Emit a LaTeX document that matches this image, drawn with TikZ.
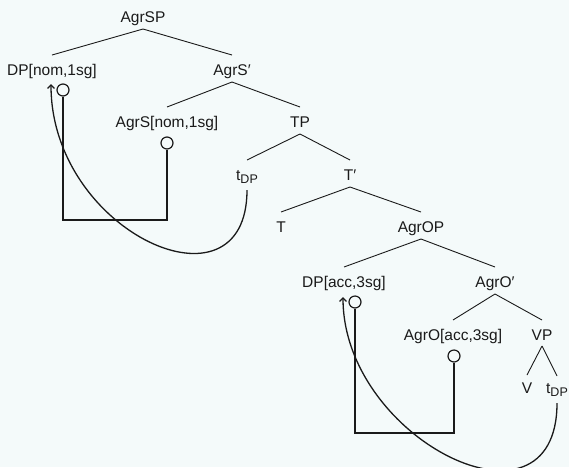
\documentclass[tikz,border=0pt]{standalone}
\usepackage{fontspec}
\setmainfont{Liberation Sans}
\usetikzlibrary{arrows.meta}
\definecolor{paper}{HTML}{F4FAFA}
\definecolor{ink}{HTML}{1A1A1A}
\newcommand{\trace}{t\raisebox{-3pt}{\fontsize{12.5}{14}\selectfont DP}}
\begin{document}
\begin{tikzpicture}[x=1pt,y=-1pt,
  lbl/.style={anchor=base,inner sep=0pt,text=ink,font=\fontsize{15.5}{18}\selectfont},
  branch/.style={draw=ink,line width=0.9pt},
  link/.style={draw=ink,line width=1.3pt},
  knob/.style={circle,draw=ink,fill=paper,line width=1.2pt,minimum size=12pt,inner sep=0pt},
  move/.style={draw=ink,line width=1.3pt,-{Straight Barb[length=3.5pt,width=7pt]}}]
\fill[paper] (0,0) rectangle (569,467);
\useasboundingbox (0,0) rectangle (569,467);

% tree labels (x = centre, y = baseline)
\node[lbl] (agrsp) at (143,22)  {AgrSP};
\node[lbl] (dpnom) at (52,75)   {DP[nom,1sg]};
\node[lbl] (agrsb) at (232,75)  {AgrS′};
\node[lbl] (agrs)  at (167,127) {AgrS[nom,1sg]};
\node[lbl] (tp)    at (300,127) {TP};
\node[lbl] (ts)    at (247,180) {\trace};
\node[lbl] (tb)    at (350,180) {T′};
\node[lbl] (t)     at (281,232) {T};
\node[lbl] (agrop) at (421,232) {AgrOP};
\node[lbl] (dpacc) at (344,287) {DP[acc,3sg]};
\node[lbl] (agrob) at (495,287) {AgrO′};
\node[lbl] (agro)  at (453,340) {AgrO[acc,3sg]};
\node[lbl] (vp)    at (542,340) {VP};
\node[lbl] (v)     at (527,393) {V};
\node[lbl] (to)    at (557,393) {\trace};

% branches: from below the mother's baseline to above the daughter's
\newcommand{\branchto}[2]{\draw[branch] ([yshift=-7pt]#1.base) -- ([yshift=20pt]#2.base);}
\branchto{agrsp}{dpnom}
\branchto{agrsp}{agrsb}
\branchto{agrsb}{agrs}
\branchto{agrsb}{tp}
\branchto{tp}{ts}
\branchto{tp}{tb}
\branchto{tb}{t}
\branchto{tb}{agrop}
\branchto{agrop}{dpacc}
\branchto{agrop}{agrob}
\branchto{agrob}{agro}
\branchto{agrob}{vp}
\draw[branch] ([yshift=-6pt]vp.base) -- ([yshift=18pt]v.base);
\draw[branch] ([yshift=-6pt]vp.base) -- ([yshift=17pt]to.base);

% feature-checking links
\node[knob] (ka) at (63,90) {};
\node[knob] (kb) at (167,143) {};
\draw[link] (ka.south) |- (167,220) -- (kb.south);
\node[knob] (kc) at (355,302) {};
\node[knob] (kd) at (454,356) {};
\draw[link] (kc.south) |- (454,433) -- (kd.south);

% movement arrows
\coordinate (landS) at (51,84);
\coordinate (landO) at (343,297);
\draw[move] ([yshift=-10pt]ts.base) .. controls +(0,130) and +(0,149) .. (landS);
\draw[move] ([yshift=-10pt]to.base) .. controls +(0,142) and +(0,143) .. (landO);
\end{tikzpicture}
\end{document}
